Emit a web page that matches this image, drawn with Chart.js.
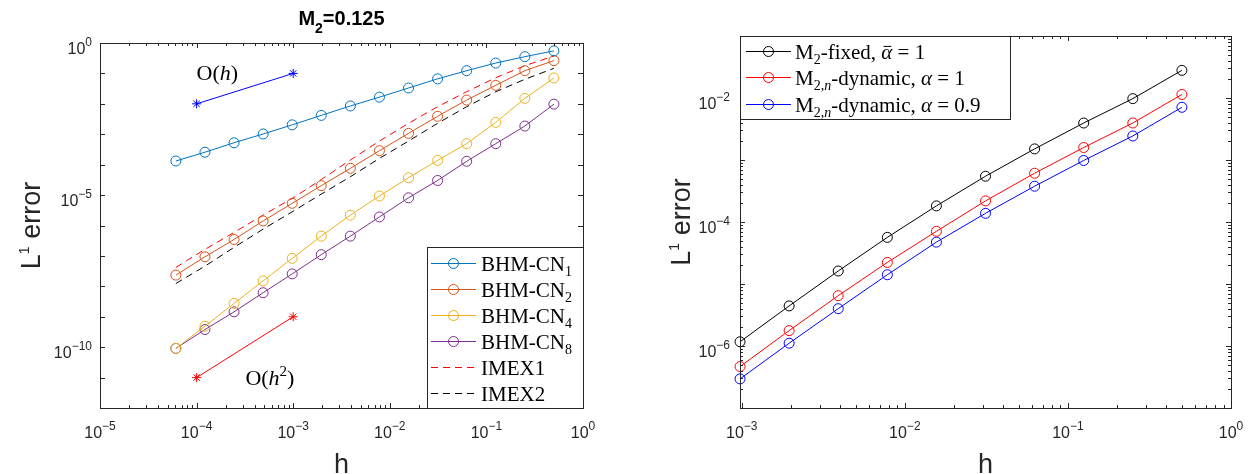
<!DOCTYPE html>
<html>
<head>
<meta charset="utf-8">
<title>L1 error convergence</title>
<script src="https://cdn.jsdelivr.net/npm/chart.js@4.4.1/dist/chart.umd.min.js"></script>
<style>
    html, body { margin: 0; padding: 0; background: #fff; }
    #wrap { position: relative; width: 1250px; height: 474px; overflow: hidden; }
    .panel { position: absolute; top: 0; width: 625px; height: 474px; }
    #left-panel { left: 0; }
    #right-panel { left: 625px; }
</style>
</head>
<body>
<div id="wrap">
    <div class="panel" id="left-panel"><canvas id="left-chart" width="625" height="474"></canvas></div>
    <div class="panel" id="right-panel"><canvas id="right-chart" width="625" height="474"></canvas></div>
</div>
<script>
// ---- Left panel data (M2 = 0.125) ----
const hFine = [6.1035e-5, 1.2207e-4, 2.4414e-4, 4.8828e-4, 9.7656e-4, 1.9531e-3, 3.9063e-3,
               7.8125e-3, 1.5625e-2, 3.125e-2, 6.25e-2, 0.125, 0.25, 0.5];
const errCN1 = [1.32e-4, 2.57e-4, 5.25e-4, 1.02e-3, 2.04e-3, 4.17e-3, 8.51e-3, 1.66e-2, 3.31e-2, 6.61e-2, 1.23e-1, 2.19e-1, 3.55e-1, 5.5e-1];
const errCN2 = [2.34e-8, 9.33e-8, 3.47e-7, 1.41e-6, 5.37e-6, 2.04e-5, 7.59e-5, 2.88e-4, 1.07e-3, 3.89e-3, 1.33e-2, 4.07e-2, 1.23e-1, 2.63e-1];
const errCN4 = [9.1e-11, 4.9e-10, 2.75e-9, 1.51e-8, 8.3e-8, 4.47e-7, 2.19e-6, 9.33e-6, 3.72e-5, 1.38e-4, 4.9e-4, 2.45e-3, 1.51e-2, 7.08e-2];
const errCN8 = [9.1e-11, 3.8e-10, 1.45e-9, 6.17e-9, 2.57e-8, 1.1e-7, 4.47e-7, 1.91e-6, 8.13e-6, 3.02e-5, 1.29e-4, 4.9e-4, 1.86e-3, 9.77e-3];
const errIMEX1 = [4.19e-8, 1.64e-7, 5.93e-7, 2.2e-6, 7.78e-6, 3.24e-5, 1.42e-4, 5.97e-4, 2.29e-3, 8.04e-3, 2.5e-2, 7.23e-2, 0.179, 0.373];
const errIMEX2 = [1.24e-8, 4.61e-8, 1.91e-7, 7.62e-7, 2.82e-6, 1.08e-5, 4.0e-5, 1.61e-4, 5.97e-4, 2.29e-3, 8.04e-3, 2.5e-2, 6.4e-2, 0.147];

// reference slopes
const refH = [1e-4, 1e-3];
const refOrder1 = [1e-2, 1e-1];
const refOrder2 = [1e-11, 1e-9];

// ---- Right panel data ----
const hCoarse = [9.7656e-4, 1.9531e-3, 3.9063e-3, 7.8125e-3, 1.5625e-2, 3.125e-2, 6.25e-2, 0.125, 0.25, 0.5];
const errFixed = [1.17e-6, 4.43e-6, 1.62e-5, 5.65e-5, 1.82e-4, 5.48e-4, 1.51e-3, 3.95e-3, 9.77e-3, 2.79e-2];
const errDyn1 = [4.66e-7, 1.77e-6, 6.49e-6, 2.23e-5, 7.08e-5, 2.19e-4, 6.12e-4, 1.59e-3, 3.95e-3, 1.14e-2];
const errDyn09 = [2.95e-7, 1.11e-6, 4.0e-6, 1.41e-5, 4.74e-5, 1.38e-4, 3.78e-4, 9.82e-4, 2.44e-3, 7.08e-3];

// ---- Tick labels ----
const leftXTicks = [1e-5, 1e-4, 1e-3, 1e-2, 1e-1, 1];
const leftXLabels = ['10^-5', '10^-4', '10^-3', '10^-2', '10^-1', '10^0'];
const leftYTicks = [1e-10, 1e-5, 1];
const leftYLabels = ['10^-10', '10^-5', '10^0'];
const rightXTicks = [1e-3, 1e-2, 1e-1, 1];
const rightXLabels = ['10^-3', '10^-2', '10^-1', '10^0'];
const rightYTicks = [1e-6, 1e-4, 1e-2];
const rightYLabels = ['10^-6', '10^-4', '10^-2'];

const AXIS_COLOR = '#262626';
const SANS = '"Liberation Sans", Arial, Helvetica, sans-serif';
const SERIF = '"Liberation Serif", "Times New Roman", serif';

function pts(xs, ys) {
    return xs.map((x, i) => ({ x: x, y: ys[i] }));
}

function series(label, xs, ys, color, extra) {
    return Object.assign({
        label: label,
        data: pts(xs, ys),
        showLine: true,
        borderColor: color,
        borderWidth: 1,
        pointStyle: 'circle',
        pointRadius: 5,
        pointBorderWidth: 1,
        pointBorderColor: color,
        pointBackgroundColor: 'rgba(0,0,0,0)',
        clip: false
    }, extra || {});
}

// rich text: parts [{t, sub, sup, it, bar}]
function fontString(font, size, italic) {
    return [italic ? 'italic' : '', font.weight || '', size + 'px', font.family].filter(Boolean).join(' ');
}

function drawRich(ctx, x, y, parts, font, measureOnly) {
    let cx = x;
    ctx.textAlign = 'left';
    ctx.textBaseline = 'alphabetic';
    parts.forEach(p => {
        const small = p.sub || p.sup;
        const size = small ? Math.round(font.size * (font.smallScale || 0.7)) : font.size;
        ctx.font = fontString(font, size, p.it);
        const dy = p.sub ? font.size * (font.subDrop || 0.3) : (p.sup ? -font.size * (font.supRise || 0.38) : 0);
        const w = ctx.measureText(p.t).width;
        if (!measureOnly) {
            ctx.fillText(p.t, cx, y + dy);
            if (p.bar) {
                ctx.fillRect(cx + w * 0.2, y - font.size * 0.6, w * 0.7, 1);
            }
        }
        cx += w;
    });
    return cx - x;
}

// "10^-5" style tick label
function drawPowerLabel(ctx, x, y, label, align) {
    const bits = label.split('^');
    const base = bits[0];
    const exp = bits[1].replace('-', '\u2212');
    ctx.textAlign = 'left';
    ctx.textBaseline = 'alphabetic';
    ctx.font = '16px ' + SANS;
    const wb = ctx.measureText(base).width;
    ctx.font = '12px ' + SANS;
    const we = ctx.measureText(exp).width;
    const x0 = align === 'center' ? x - (wb + we) / 2 : x - (wb + we);
    ctx.font = '16px ' + SANS;
    ctx.fillText(base, x0, y);
    ctx.font = '12px ' + SANS;
    ctx.fillText(exp, x0 + wb, y - 8);
}

// tick positions on a log axis: decades, optionally 2..9 minors
function logTicks(min, max, withMinors) {
    const out = [];
    const steps = withMinors ? [1, 2, 3, 4, 5, 6, 7, 8, 9] : [1];
    for (let e = Math.floor(Math.log10(min)); e <= Math.ceil(Math.log10(max)); e++) {
        steps.forEach(m => {
            const v = m * Math.pow(10, e);
            if (v >= min * 0.9999 && v <= max * 1.0001) out.push({ v: v, major: m === 1 });
        });
    }
    return out;
}

function drawLegend(ctx, lg) {
    ctx.save();
    ctx.fillStyle = '#fff';
    ctx.fillRect(lg.x, lg.y, lg.w, lg.h);
    ctx.strokeStyle = AXIS_COLOR;
    ctx.lineWidth = 1;
    ctx.strokeRect(lg.x + 0.5, lg.y + 0.5, lg.w, lg.h);
    lg.items.forEach((it, i) => {
        const cy = Math.round(lg.y + lg.firstRow + i * lg.rowStep) + 0.5;
        ctx.strokeStyle = it.color;
        ctx.setLineDash(it.dash || []);
        ctx.beginPath();
        ctx.moveTo(lg.x + lg.lineX0, cy);
        ctx.lineTo(lg.x + lg.lineX1, cy);
        ctx.stroke();
        ctx.setLineDash([]);
        if (it.marker) {
            ctx.beginPath();
            ctx.arc(lg.x + (lg.lineX0 + lg.lineX1) / 2, cy, 5, 0, 2 * Math.PI);
            ctx.stroke();
        }
        ctx.fillStyle = '#000';
        drawRich(ctx, lg.x + lg.textX, cy + 7, it.parts, lg.font);
    });
    ctx.restore();
}

// MATLAB-like frame: box, inward ticks on all sides, labels, titles, legend
function framePlugin(cfg) {
    return {
        id: 'matlabFrame',
        afterDraw(chart) {
            const ctx = chart.ctx;
            const area = chart.chartArea;
            const xs = chart.scales.x;
            const ys = chart.scales.y;
            ctx.save();

            // annotations inside the axes
            (cfg.notes || []).forEach(n => {
                ctx.fillStyle = '#000';
                drawRich(ctx, xs.getPixelForValue(n.x), ys.getPixelForValue(n.y) + 7, n.parts,
                    { size: 22, family: SERIF, supRise: 0.4 });
            });

            // box
            ctx.strokeStyle = AXIS_COLOR;
            ctx.lineWidth = 1;
            ctx.strokeRect(area.left + 0.5, area.top + 0.5, area.right - area.left, area.bottom - area.top);

            // ticks
            ctx.beginPath();
            logTicks(xs.min, xs.max, cfg.xMinors).forEach(t => {
                const px = Math.round(xs.getPixelForValue(t.v)) + 0.5;
                const len = t.major ? 5 : 3;
                ctx.moveTo(px, area.bottom); ctx.lineTo(px, area.bottom - len);
                ctx.moveTo(px, area.top); ctx.lineTo(px, area.top + len);
            });
            logTicks(ys.min, ys.max, cfg.yMinors).forEach(t => {
                const py = Math.round(ys.getPixelForValue(t.v)) + 0.5;
                const len = t.major ? 5 : 3;
                ctx.moveTo(area.left, py); ctx.lineTo(area.left + len, py);
                ctx.moveTo(area.right, py); ctx.lineTo(area.right - len, py);
            });
            ctx.stroke();

            // tick labels
            ctx.fillStyle = AXIS_COLOR;
            cfg.xTicks.forEach((v, i) => {
                drawPowerLabel(ctx, xs.getPixelForValue(v), area.bottom + 30, cfg.xLabels[i], 'center');
            });
            cfg.yTicks.forEach((v, i) => {
                drawPowerLabel(ctx, area.left - cfg.yLabelGap, ys.getPixelForValue(v) + 11, cfg.yLabels[i], 'right');
            });

            // axis titles
            const midX = (area.left + area.right) / 2;
            const midY = (area.top + area.bottom) / 2;
            ctx.fillStyle = AXIS_COLOR;
            ctx.font = '27px ' + SANS;
            ctx.textAlign = 'center';
            ctx.fillText('h', midX, area.bottom + 65);

            const yFont = { size: 27, family: SANS, smallScale: 0.5, supRise: 0.4 };
            const yParts = [{ t: 'L' }, { t: '1', sup: true }, { t: ' error' }];
            const yw = drawRich(ctx, 0, 0, yParts, yFont, true);
            ctx.save();
            ctx.translate(area.left + cfg.yTitleOffset, midY);
            ctx.rotate(-Math.PI / 2);
            drawRich(ctx, -yw / 2, 0, yParts, yFont);
            ctx.restore();

            // title
            if (cfg.title) {
                const tFont = { size: 20, family: SANS, weight: 'bold', subDrop: 0.38 };
                const tw = drawRich(ctx, 0, 0, cfg.title, tFont, true);
                ctx.fillStyle = '#000';
                drawRich(ctx, midX - tw / 2, 25, cfg.title, tFont);
            }

            // legend
            if (cfg.legend) drawLegend(ctx, cfg.legend(area));
            ctx.restore();
        }
    };
}

function baseOptions(padding, xRange, yRange) {
    return {
        responsive: false,
        animation: false,
        devicePixelRatio: 1,
        events: [],
        layout: { padding: padding },
        plugins: { legend: { display: false }, tooltip: { enabled: false } },
        scales: {
            x: { type: 'logarithmic', display: false, min: xRange[0], max: xRange[1] },
            y: { type: 'logarithmic', display: false, min: yRange[0], max: yRange[1] }
        }
    };
}

document.addEventListener('DOMContentLoaded', function () {
    const dash = [7, 5];

    // Left chart
    const leftDatasets = [
        series('BHM-CN1', hFine, errCN1, '#0072BD'),
        series('BHM-CN2', hFine, errCN2, '#D95319'),
        series('BHM-CN4', hFine, errCN4, '#EDB120'),
        series('BHM-CN8', hFine, errCN8, '#7E2F8E'),
        series('IMEX1', hFine, errIMEX1, '#FF0000', { pointRadius: 0, borderDash: dash }),
        series('IMEX2', hFine, errIMEX2, '#000000', { pointRadius: 0, borderDash: dash }),
        series('O(h)', refH, refOrder1, '#0000FF', { pointStyle: 'star', pointRadius: 4.5 }),
        series('O(h^2)', refH, refOrder2, '#FF0000', { pointStyle: 'star', pointRadius: 4.5 })
    ];

    const leftLegend = area => ({
        x: area.right - 156, y: area.bottom - 161, w: 156, h: 161,
        firstRow: 16, rowStep: 26, lineX0: 4, lineX1: 49, textX: 54,
        font: { size: 21, family: SERIF, smallScale: 0.68, subDrop: 0.25 },
        items: [
            { color: '#0072BD', marker: true, parts: [{ t: 'BHM-CN' }, { t: '1', sub: true }] },
            { color: '#D95319', marker: true, parts: [{ t: 'BHM-CN' }, { t: '2', sub: true }] },
            { color: '#EDB120', marker: true, parts: [{ t: 'BHM-CN' }, { t: '4', sub: true }] },
            { color: '#7E2F8E', marker: true, parts: [{ t: 'BHM-CN' }, { t: '8', sub: true }] },
            { color: '#FF0000', dash: dash, parts: [{ t: 'IMEX1' }] },
            { color: '#000000', dash: dash, parts: [{ t: 'IMEX2' }] }
        ]
    });

    new Chart(document.getElementById('left-chart'), {
        type: 'scatter',
        data: { datasets: leftDatasets },
        options: baseOptions({ left: 100, top: 43, right: 42, bottom: 66 }, [1e-5, 1], [1e-12, 1]),
        plugins: [framePlugin({
            xTicks: leftXTicks, xLabels: leftXLabels, xMinors: true,
            yTicks: leftYTicks, yLabels: leftYLabels, yMinors: false,
            yLabelGap: 8, yTitleOffset: -60,
            title: [{ t: 'M' }, { t: '2', sub: true }, { t: '=0.125' }],
            notes: [
                { x: 1e-4, y: 1e-1, parts: [{ t: 'O' }, { t: '(' }, { t: 'h', it: true }, { t: ')' }] },
                { x: 3.2e-4, y: 1e-11, parts: [{ t: 'O' }, { t: '(' }, { t: 'h', it: true }, { t: '2', sup: true }, { t: ')' }] }
            ],
            legend: leftLegend
        })]
    });

    // Right chart
    const rightDatasets = [
        series('M2-fixed', hCoarse, errFixed, '#000000'),
        series('M2n-dynamic a=1', hCoarse, errDyn1, '#FF0000'),
        series('M2n-dynamic a=0.9', hCoarse, errDyn09, '#0000FF')
    ];

    const rightLegend = area => ({
        x: area.left, y: area.top, w: 270, h: 83,
        firstRow: 15, rowStep: 26.3, lineX0: 6, lineX1: 51, textX: 55,
        font: { size: 21, family: SERIF, smallScale: 0.68, subDrop: 0.25 },
        items: [
            { color: '#000000', marker: true, parts: [{ t: 'M' }, { t: '2', sub: true }, { t: '-fixed, ' }, { t: '\u03b1', it: true, bar: true }, { t: ' = 1' }] },
            { color: '#FF0000', marker: true, parts: [{ t: 'M' }, { t: '2,', sub: true }, { t: 'n', sub: true, it: true }, { t: '-dynamic, ' }, { t: '\u03b1', it: true }, { t: ' = 1' }] },
            { color: '#0000FF', marker: true, parts: [{ t: 'M' }, { t: '2,', sub: true }, { t: 'n', sub: true, it: true }, { t: '-dynamic, ' }, { t: '\u03b1', it: true }, { t: ' = 0.9' }] }
        ]
    });

    new Chart(document.getElementById('right-chart'), {
        type: 'scatter',
        data: { datasets: rightDatasets },
        options: baseOptions({ left: 115, top: 36, right: 19, bottom: 66 }, [9.76e-4, 1], [1e-7, 1e-1]),
        plugins: [framePlugin({
            xTicks: rightXTicks, xLabels: rightXLabels, xMinors: true,
            yTicks: rightYTicks, yLabels: rightYLabels, yMinors: true,
            yLabelGap: 10, yTitleOffset: -50,
            legend: rightLegend
        })]
    });
});
</script>
</body>
</html>
